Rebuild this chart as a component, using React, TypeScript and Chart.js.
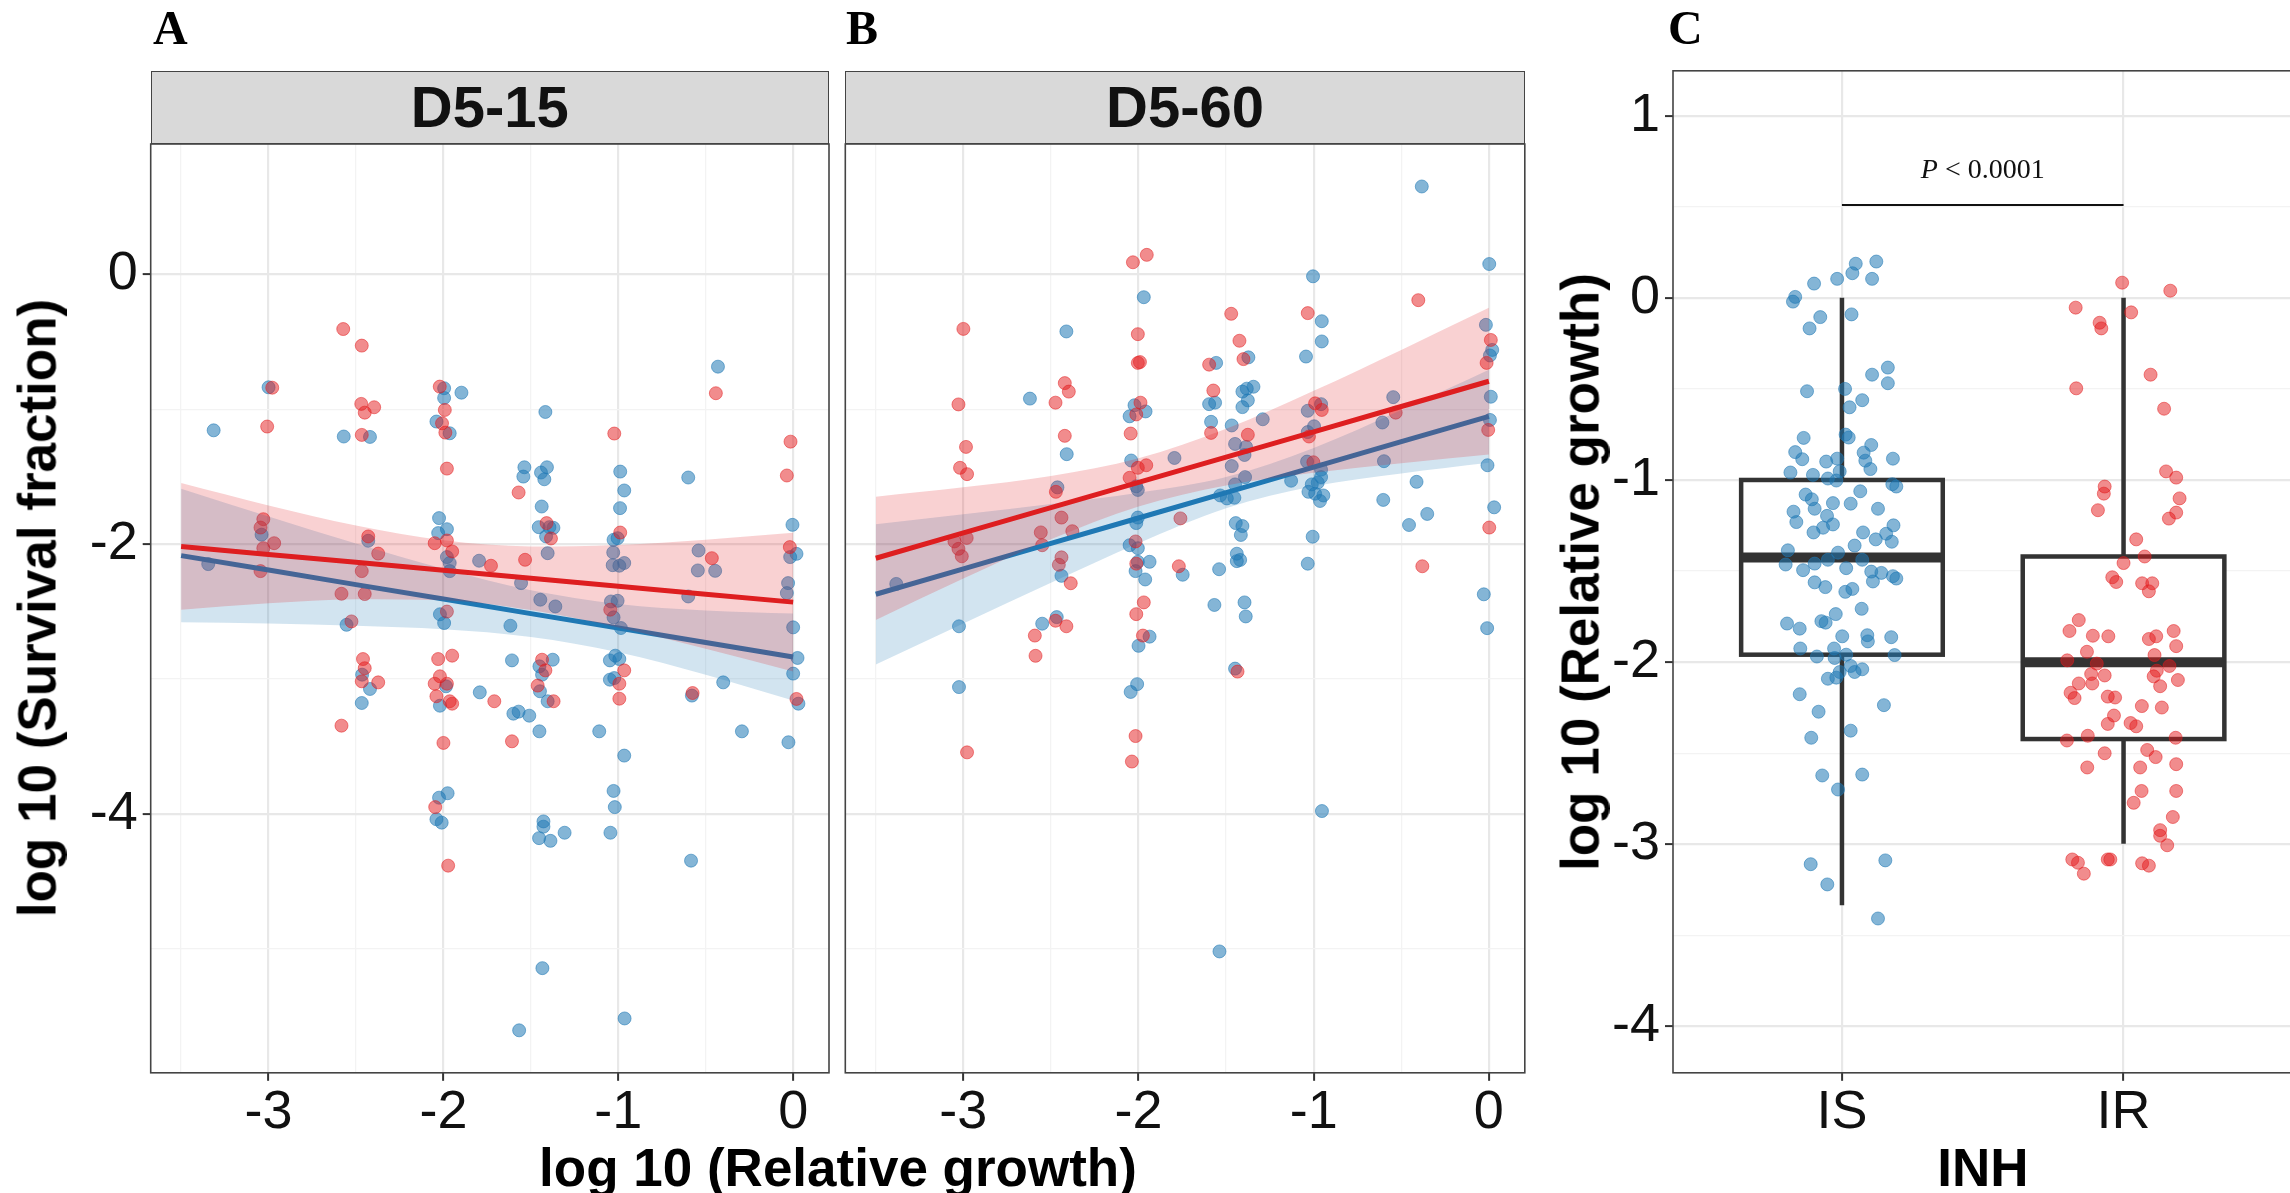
import React, { useEffect, useRef } from "react";
import { Chart, registerables } from "chart.js";

Chart.register(...registerables);

const SANS = '"Liberation Sans", Arial, Helvetica, sans-serif';
const SERIF = '"Liberation Serif", "Times New Roman", serif';

// ---------------- Panel A : D5-15  (x = log10 relative growth, y = log10 survival fraction)
const d15_IS: number[][] = [
  [-3.0,-0.837],[-3.314,-1.156],[-2.57,-1.202],[-2.42,-1.205],[-1.996,-0.844],[-1.996,-0.916],[-1.897,-0.877],[-2.04,-1.091],[-1.964,-1.178],[-3.04,-1.93],[-3.345,-2.148],[-2.43,-1.975],[-2.554,-2.598],[-2.025,-1.807],[-2.03,-1.918],[-1.98,-1.889],[-1.98,-2.096],[-1.964,-2.14],[-1.964,-2.2],[-1.796,-2.123],[-2.02,-2.52],[-1.996,-2.585],[-2.465,-2.968],[-2.42,-3.074],[-2.467,-3.178],[-1.985,-3.054],[-2.02,-3.198],[-1.792,-3.099],
  [-0.43,-0.684],[-1.417,-1.02],[-0.6,-1.506],[-1.537,-1.43],[-1.543,-1.499],[-1.442,-1.469],[-1.408,-1.43],[-1.423,-1.519],[-0.989,-1.462],[-0.966,-1.602],[-0.99,-1.733],[-1.438,-1.721],[-1.455,-1.874],[-1.394,-1.874],[-1.371,-1.879],[-1.413,-1.943],[-1.404,-2.067],[-1.027,-1.968],[-1.004,-1.956],[-1.029,-2.062],[-1.032,-2.156],[-0.994,-2.16],[-0.966,-2.14],[-1.556,-2.289],[-1.446,-2.412],[-1.36,-2.462],[-1.617,-2.605],[-1.042,-2.425],[-1.004,-2.42],[-1.027,-2.543],[-0.985,-2.622],[-0.541,-2.047],[-0.545,-2.195],[-0.446,-2.198],[-0.6,-2.388],[-0.004,-1.857],[0.019,-2.072],[-0.017,-2.096],[-0.029,-2.289],[-0.036,-2.363],[0,-2.617],[0.025,-2.844],[0,-2.96],[-0.4,-3.025],[0.03,-3.183],[-0.579,-3.123],[-1.608,-2.862],[-1.375,-2.857],[-1.451,-2.906],[-1.436,-2.968],[-1.448,-3.091],[-1.404,-3.165],[-1.6,-3.257],[-1.57,-3.242],[-1.509,-3.272],[-1.451,-3.388],[-1.109,-3.388],[-0.293,-3.388],[-0.027,-3.469],[-0.966,-3.568],[-1.048,-2.862],[-1.017,-2.827],[-0.994,-2.852],[-1.048,-3.005],[-1.023,-2.993],
  [-1.02,-3.95],[-1.027,-3.83],[-1.045,-4.14],[-2.025,-3.88],[-1.976,-3.847],[-2.04,-4.04],[-2.01,-4.065],[-1.428,-4.056],[-1.428,-4.095],[-1.453,-4.18],[-1.388,-4.2],[-1.307,-4.14],[-0.584,-4.347],[-1.434,-5.144],[-1.567,-5.605],[-0.964,-5.517],
];
const d15_IR: number[][] = [
  [-2.573,-0.405],[-2.467,-0.528],[-2.979,-0.84],[-3.008,-1.128],[-2.467,-1.19],[-2.47,-0.96],[-2.396,-0.985],[-2.45,-1.025],[-2.021,-0.832],[-1.992,-1.005],[-2.008,-1.104],[-1.989,-1.173],[-1.98,-1.44],[-3.03,-1.815],[-3.046,-1.877],[-2.968,-1.993],[-3.03,-2.03],[-3.046,-2.2],[-2.43,-1.943],[-2.373,-2.07],[-2.467,-2.2],[-2.583,-2.368],[-2.45,-2.37],[-2.526,-2.573],[-2.05,-1.993],[-1.98,-1.973],[-1.95,-2.054],[-1.728,-2.16],[-1.98,-2.5],[-2.46,-2.852],[-2.45,-2.92],[-2.467,-3.017],[-2.373,-3.025],[-2.583,-3.346],[-2.03,-2.852],[-1.95,-2.827],[-2.02,-2.98],[-2.05,-3.035],[-1.98,-3.035],[-2.04,-3.128],[-1.964,-3.165],[-1.95,-3.183],[-2.0,-3.474],
  [-0.442,-0.881],[-1.023,-1.18],[-0.015,-1.24],[-0.036,-1.491],[-1.57,-1.617],[-1.41,-1.844],[-1.385,-1.958],[-0.989,-1.914],[-1.533,-2.116],[-1.046,-2.486],[-0.465,-2.104],[-0.019,-2.022],[0.019,-3.148],[-0.575,-3.104],[-1.436,-2.857],[-1.417,-2.936],[-1.461,-3.049],[-1.37,-3.165],[-1.709,-3.165],[-1.608,-3.462],[-0.966,-2.936],[-0.994,-3.035],[-0.994,-3.146],
  [-2.047,-3.95],[-1.973,-4.384],
];

// ---------------- Panel B : D5-60
const d60_IS: number[][] = [
  [-1.97,-0.169],[-2.412,-0.423],[-2.62,-0.921],[-2.41,-1.333],[-2.023,-0.97],[-2.051,-1.052],[-1.96,-1.016],[-2.042,-1.38],[-1.795,-1.361],[-2.013,-1.571],[-2.004,-1.598],[-2.463,-1.579],[-3.383,-2.295],[-3.025,-2.609],[-3.025,-3.06],[-2.44,-2.235],[-2.55,-2.59],[-2.467,-2.541],[-2.004,-1.803],[-2.013,-1.844],[-2.051,-2.008],[-2.004,-2.03],[-2.004,-2.131],[-1.937,-2.131],[-2.017,-2.2],[-1.962,-2.262],[-1.937,-2.686],[-2.0,-2.754],[-2.008,-3.038],[-2.045,-3.096],[-1.748,-2.227],
  [-1.004,-0.014],[0.002,0.077],[-0.954,-0.347],[-0.954,-0.497],[-1.044,-0.609],[-1.373,-0.615],[-1.557,-0.656],[-1.597,-0.962],[-1.563,-0.951],[-1.586,-1.093],[-1.407,-0.869],[-1.382,-0.847],[-1.344,-0.833],[-1.376,-0.934],[-1.407,-0.984],[-1.468,-1.12],[-1.291,-1.074],[-1.449,-1.257],[-1.386,-1.279],[-1.395,-1.339],[-1.468,-1.421],[-1.392,-1.503],[-1.449,-1.557],[-1.534,-1.639],[-1.496,-1.661],[-1.453,-1.656],[-1.445,-1.844],[-1.407,-1.866],[-1.416,-1.932],[-1.439,-2.071],[-1.42,-2.117],[-1.439,-2.126],[-1.54,-2.186],[-1.567,-2.451],[-1.395,-2.432],[-1.388,-2.536],[-1.449,-2.923],[-1.129,-1.53],[-1.034,-1.011],[-0.958,-0.962],[-1.034,-1.169],[-0.998,-1.126],[-1.038,-1.388],[-0.958,-1.448],[-0.958,-1.503],[-1.011,-1.557],[-0.977,-1.544],[-1.03,-1.612],[-0.992,-1.626],[-0.945,-1.639],[-0.964,-1.68],[-1.006,-1.945],[-1.034,-2.145],[-0.546,-0.91],[-0.608,-1.098],[-0.599,-1.385],[-0.413,-1.538],[-0.603,-1.672],[-0.456,-1.858],[-0.352,-1.776],[-0.017,-0.374],[0.019,-0.56],[0.006,-0.601],[0.011,-0.907],[0.006,-1.079],[-0.008,-1.415],[0.03,-1.727],[-0.029,-2.372],[-0.01,-2.623],
  [-0.383,0.652],[-0.953,-3.979],[-1.538,-5.02],
];
const d60_IR: number[][] = [
  [-2.032,0.09],[-1.953,0.145],[-2.004,-0.443],[-2.004,-0.656],[-1.992,-0.65],[-3.0,-0.404],[-3.028,-0.964],[-2.474,-0.951],[-2.421,-0.806],[-2.398,-0.869],[-2.421,-1.197],[-2.985,-1.279],[-3.019,-1.434],[-2.979,-1.481],[-2.013,-1.038],[-1.989,-0.951],[-2.045,-1.18],[-2.004,-1.434],[-1.956,-1.415],[-2.051,-1.508],[-2.472,-1.612],[-2.44,-1.803],[-2.378,-1.904],[-2.558,-1.913],[-2.55,-2.008],[-3.051,-1.98],[-2.981,-1.954],[-3.028,-2.035],[-3.009,-2.09],[-2.979,-3.544],[-2.44,-2.098],[-2.455,-2.153],[-2.387,-2.29],[-2.592,-2.678],[-2.588,-2.828],[-2.474,-2.568],[-2.412,-2.609],[-2.017,-1.98],[-2.013,-2.145],[-1.97,-2.432],[-2.013,-2.519],[-1.975,-2.678],[-2.017,-3.423],[-2.038,-3.612],[-1.761,-1.809],[-1.77,-2.164],
  [-0.403,-0.191],[-1.471,-0.292],[-1.034,-0.287],[-1.424,-0.492],[-1.401,-0.628],[-1.597,-0.669],[-1.573,-0.861],[-1.586,-1.175],[-1.376,-1.189],[-1.435,-2.945],[-0.992,-0.956],[-0.954,-1.005],[-1.027,-1.202],[-1.002,-1.393],[-0.532,-1.025],[-0.38,-2.164],[0.011,-0.486],[-0.013,-0.656],[-0.004,-1.153],[0.002,-1.877],
];

// fitted regression lines and 95% bands, read at these x positions
const fitX = [-3.5, -3, -2.5, -2, -1.5, -1, -0.5, 0];
const d15_IR_fit = [-2.017, -2.076, -2.135, -2.194, -2.253, -2.312, -2.371, -2.43];
const d15_IR_hi = [-1.547, -1.713, -1.862, -1.972, -2.017, -2.006, -1.967, -1.915];
const d15_IR_lo = [-2.487, -2.439, -2.408, -2.416, -2.489, -2.618, -2.775, -2.945];
const d15_IS_fit = [-2.085, -2.192, -2.3, -2.407, -2.515, -2.622, -2.73, -2.837];
const d15_IS_hi = [-1.589, -1.795, -1.995, -2.183, -2.342, -2.443, -2.492, -2.515];
const d15_IS_lo = [-2.58, -2.589, -2.605, -2.631, -2.688, -2.801, -2.968, -3.159];
const d60_IR_fit = [-2.1045, -1.917, -1.7295, -1.542, -1.3545, -1.167, -0.9795, -0.792];
const d60_IR_hi = [-1.648, -1.579, -1.495, -1.364, -1.145, -0.863, -0.56, -0.248];
const d60_IR_lo = [-2.562, -2.255, -1.964, -1.72, -1.565, -1.471, -1.4, -1.336];
const d60_IS_fit = [-2.3715, -2.183, -1.9945, -1.806, -1.6175, -1.429, -1.2405, -1.052];
const d60_IS_hi = [-1.852, -1.779, -1.703, -1.619, -1.502, -1.287, -1.006, -0.707];
const d60_IS_lo = [-2.892, -2.588, -2.287, -1.993, -1.734, -1.571, -1.476, -1.397];

const facetNames = ["D5-15", "D5-60"];
const xTicksAB = [-3.5, -3, -2.5, -2, -1.5, -1, -0.5, 0];
const xMajorsAB = [-3, -2, -1, 0];
const yTicksAB = [-5, -4, -3, -2, -1, 0];
const yMajorsAB = [-4, -2, 0];

// ---------------- Panel C : log10 relative growth by INH
const inhGroups = ["IS", "IR"];
const inhPos = [1, 2];
// jitter offset (from the group centre) and value
const inhIS_pts: number[][] = [
  [0.122,0.199],[0.049,0.187],[0.037,0.135],[0.107,0.104],[-0.017,0.104],[-0.099,0.078],[-0.166,0.005],[-0.174,-0.021],[-0.077,-0.106],[0.034,-0.091],[-0.115,-0.168],[0.163,-0.383],[0.107,-0.422],[0.163,-0.469],[-0.124,-0.513],[0.011,-0.5],[0.072,-0.562],[0.027,-0.601],[0.013,-0.751],[0.024,-0.767],[-0.136,-0.769],[0.104,-0.808],[-0.166,-0.847],[0.077,-0.85],[0.181,-0.883],[-0.141,-0.886],[-0.017,-0.883],[-0.056,-0.899],[0.083,-0.894],[0.101,-0.94],[-0.183,-0.959],[-0.103,-0.972],[-0.008,-0.953],[-0.05,-0.992],[-0.02,-1.003],[0.179,-1.023],[0.193,-1.036],[0.065,-1.062],[-0.129,-1.08],[-0.107,-1.106],[-0.032,-1.127],[0.031,-1.13],[-0.097,-1.158],[0.128,-1.158],[-0.172,-1.174],[-0.053,-1.197],[-0.162,-1.231],[-0.032,-1.244],[-0.067,-1.262],[0.183,-1.249],[-0.101,-1.288],[0.075,-1.288],[0.157,-1.295],[0.12,-1.326],[0.177,-1.339],[0.045,-1.36],[-0.192,-1.386],[-0.014,-1.399],[-0.2,-1.464],[-0.138,-1.495],[-0.097,-1.459],[-0.05,-1.438],[0.015,-1.484],[0.072,-1.438],[0.104,-1.503],[0.14,-1.51],[0.181,-1.528],[0.193,-1.541],[0.11,-1.557],[-0.097,-1.562],[-0.059,-1.588],[0.012,-1.614],[0.037,-1.598],[0.07,-1.707],[-0.195,-1.788],[-0.15,-1.816],[-0.073,-1.775],[-0.058,-1.783],[-0.022,-1.736],[0.001,-1.858],[0.09,-1.852],[0.092,-1.886],[0.175,-1.863],[-0.148,-1.925],[-0.089,-1.969],[-0.028,-1.925],[-0.026,-1.977],[0.015,-1.959],[0.187,-1.961],[0.031,-2.021],[0.072,-2.039],[0.045,-2.054],[-0.008,-2.054],[-0.05,-2.091],[-0.02,-2.085],[-0.15,-2.176],[-0.083,-2.272],[0.149,-2.236],[-0.109,-2.415],[0.031,-2.376],[-0.07,-2.622],[0.072,-2.617],[-0.014,-2.699],[-0.111,-3.109],[0.154,-3.088],[-0.052,-3.22],[0.128,-3.407],
];
const inhIR_pts: number[][] = [
  [-0.005,0.083],[0.166,0.039],[-0.17,-0.054],[0.027,-0.08],[-0.085,-0.137],[-0.079,-0.168],[0.096,-0.422],[-0.168,-0.497],[0.144,-0.609],[0.151,-0.953],[0.187,-0.987],[-0.067,-1.036],[-0.07,-1.075],[0.199,-1.101],[-0.091,-1.166],[0.187,-1.179],[0.161,-1.212],[0.045,-1.326],[0.075,-1.42],[0,-1.456],[-0.04,-1.534],[-0.026,-1.56],[0.066,-1.567],[0.102,-1.567],[0.09,-1.611],[-0.159,-1.769],[-0.192,-1.829],[-0.109,-1.855],[-0.054,-1.858],[0.09,-1.873],[0.116,-1.858],[0.178,-1.829],[0.187,-1.912],[-0.13,-1.943],[0.11,-1.961],[-0.2,-1.99],[-0.095,-2.008],[0.163,-2.021],[-0.115,-2.065],[-0.067,-2.073],[0.118,-2.047],[0.107,-2.078],[0.193,-2.098],[-0.159,-2.117],[-0.111,-2.117],[0.13,-2.132],[-0.188,-2.168],[-0.174,-2.197],[-0.056,-2.189],[-0.03,-2.194],[0.065,-2.241],[0.136,-2.249],[-0.034,-2.293],[-0.056,-2.339],[0.025,-2.334],[0.045,-2.352],[-0.201,-2.43],[-0.127,-2.404],[0.185,-2.415],[-0.067,-2.5],[0.084,-2.482],[0.114,-2.521],[-0.129,-2.578],[0.059,-2.578],[0.187,-2.56],[0.064,-2.707],[0.187,-2.707],[0.036,-2.772],[0.175,-2.85],[0.13,-2.922],[0.13,-2.953],[0.155,-3.005],[-0.182,-3.083],[-0.162,-3.101],[-0.141,-3.161],[-0.056,-3.083],[-0.047,-3.083],[0.066,-3.104],[0.09,-3.117],
];
// box statistics for IS, IR
const boxLow = [-3.334, -2.997];
const boxQ1 = [-1.959, -2.422];
const boxMedian = [-1.425, -2.0];
const boxQ3 = [-1.0, -1.42];
const boxHigh = [0, 0];
const boxWidth = 0.716;
const pItalic = "P";
const pRest = " < 0.0001";
const pBracketX = [1, 2];
const pBracketY = 0.51;
const yTicksC = [-4, -3.5, -3, -2.5, -2, -1.5, -1, -0.5, 0, 0.5, 1];
const yMajorsC = [-4, -3, -2, -1, 0, 1];

// ---------------- styling
const BLUE_PT = "rgba(31,120,180,0.55)";
const RED_PT = "rgba(227,26,28,0.5)";
const BLUE_LINE = "rgb(31,120,180)";
const RED_LINE = "rgb(222,30,32)";
const BLUE_RIB = "rgba(31,120,180,0.2)";
const RED_RIB = "rgba(227,26,28,0.2)";
const GRID_MAJOR = "#e8e8e8";
const GRID_MINOR = "#f3f3f3";
const TICK_FONT = 54;
const PT_R = 6.5;
const PAGE_W = 2290;
const PAGE_H = 1193;
const PLOT_TOP = 144;
const PLOT_BOTTOM = 1072.8;
const XAXIS_H = 100;
const YAXIS_W = 140;

function scaleOpts(o: {
  min: number; max: number; ticks: number[]; majors: number[]; labels: boolean;
  size: number; horiz: boolean; fmt?: (v: number) => string;
}) {
  const isMajor = (v: any) => typeof v === "number" && o.majors.some((m) => Math.abs(m - v) < 1e-9);
  const tv = (c: any) => (c && c.tick ? c.tick.value : NaN);
  return {
    type: "linear",
    min: o.min,
    max: o.max,
    afterBuildTicks: (s: any) => {
      s.ticks = o.ticks.map((v) => ({ value: v }));
    },
    afterFit: (s: any) => {
      if (o.horiz) s.height = o.size;
      else s.width = o.size;
      s.paddingTop = 0; s.paddingBottom = 0; s.paddingLeft = 0; s.paddingRight = 0;
    },
    border: { display: false },
    grid: {
      color: (c: any) => (isMajor(tv(c)) ? GRID_MAJOR : GRID_MINOR),
      lineWidth: (c: any) => (isMajor(tv(c)) ? 2.2 : 1.3),
      drawTicks: o.labels,
      tickLength: 8,
      tickWidth: 2,
      tickColor: (c: any) => (isMajor(tv(c)) ? "#333" : "rgba(0,0,0,0)"),
    },
    ticks: {
      display: o.labels,
      autoSkip: false,
      maxRotation: 0,
      minRotation: 0,
      padding: o.horiz ? 0 : 5,
      color: "#111",
      font: { family: SANS, size: TICK_FONT },
      callback: (v: any) => (isMajor(Number(v)) ? (o.fmt ? o.fmt(Number(v)) : String(v)) : ""),
    },
  } as any;
}

const borderPlugin = {
  id: "panelBorder",
  afterDraw(chart: any) {
    const { ctx, chartArea: a } = chart;
    ctx.save();
    ctx.strokeStyle = "#444";
    ctx.lineWidth = 1.6;
    ctx.strokeRect(a.left, a.top, a.right - a.left, a.bottom - a.top);
    ctx.restore();
  },
};

const toXY = (pts: number[][]) => pts.map((p) => ({ x: p[0], y: p[1] }));
const curve = (xs: number[], ys: number[]) => xs.map((x, i) => ({ x, y: ys[i] }));

function makeFacet(
  canvas: HTMLCanvasElement,
  isPts: number[][], irPts: number[][],
  irFit: number[], irHi: number[], irLo: number[],
  isFit: number[], isHi: number[], isLo: number[],
  left: number, right: number, showY: boolean
) {
  const ribbon = (ys: number[], fill: any, bg: string) => ({
    data: curve(fitX, ys), showLine: true, borderWidth: 0, borderColor: "rgba(0,0,0,0)",
    pointRadius: 0, fill, backgroundColor: bg, cubicInterpolationMode: "monotone",
  });
  const pts = (p: number[][], c: string) => ({
    data: toXY(p), showLine: false, pointRadius: PT_R, pointHoverRadius: PT_R,
    pointBackgroundColor: c, pointBorderColor: c, pointBorderWidth: 1, fill: false,
  });
  return new Chart(canvas, {
    type: "line",
    data: {
      datasets: [
        { data: curve(fitX, irFit), showLine: true, borderColor: RED_LINE, borderWidth: 5, pointRadius: 0, fill: false },
        ribbon(irHi, "+1", RED_RIB),
        ribbon(irLo, false, "rgba(0,0,0,0)"),
        { data: curve(fitX, isFit), showLine: true, borderColor: BLUE_LINE, borderWidth: 5, pointRadius: 0, fill: false },
        ribbon(isHi, "+1", BLUE_RIB),
        ribbon(isLo, false, "rgba(0,0,0,0)"),
        pts(irPts, RED_PT),
        pts(isPts, BLUE_PT),
      ] as any,
    },
    options: {
      responsive: false,
      animation: false,
      devicePixelRatio: 1,
      events: [],
      layout: {
        padding: {
          left: showY ? left - YAXIS_W : left,
          right: PAGE_W - right,
          top: PLOT_TOP,
          bottom: PAGE_H - PLOT_BOTTOM - XAXIS_H,
        },
      },
      plugins: { legend: { display: false }, tooltip: { enabled: false } },
      scales: {
        x: scaleOpts({ min: -3.674, max: 0.205, ticks: xTicksAB, majors: xMajorsAB, labels: true, size: XAXIS_H, horiz: true }),
        y: scaleOpts({ min: -5.92, max: 0.967, ticks: yTicksAB, majors: yMajorsAB, labels: showY, size: showY ? YAXIS_W : 0, horiz: false }),
      },
    } as any,
    plugins: [borderPlugin],
  });
}

const boxPlugin = {
  id: "boxes",
  beforeDatasetsDraw(chart: any) {
    const { ctx, scales } = chart;
    const xs = scales.x, ys = scales.y;
    ctx.save();
    ctx.strokeStyle = "#333";
    inhPos.forEach((pos, i) => {
      const xc = xs.getPixelForValue(pos);
      const xl = xs.getPixelForValue(pos - boxWidth / 2);
      const xr = xs.getPixelForValue(pos + boxWidth / 2);
      const yLo = ys.getPixelForValue(boxLow[i]);
      const yQ1 = ys.getPixelForValue(boxQ1[i]);
      const yMed = ys.getPixelForValue(boxMedian[i]);
      const yQ3 = ys.getPixelForValue(boxQ3[i]);
      const yHi = ys.getPixelForValue(boxHigh[i]);
      ctx.lineWidth = 4.5;
      ctx.beginPath();
      ctx.moveTo(xc, yHi); ctx.lineTo(xc, yQ3);
      ctx.moveTo(xc, yQ1); ctx.lineTo(xc, yLo);
      ctx.stroke();
      ctx.fillStyle = "#fff";
      ctx.fillRect(xl, yQ3, xr - xl, yQ1 - yQ3);
      ctx.strokeRect(xl, yQ3, xr - xl, yQ1 - yQ3);
      ctx.lineWidth = 10;
      ctx.beginPath();
      ctx.moveTo(xl, yMed); ctx.lineTo(xr, yMed);
      ctx.stroke();
    });
    ctx.restore();
  },
};

const pPlugin = {
  id: "pval",
  afterDatasetsDraw(chart: any) {
    const { ctx, scales } = chart;
    const x1 = scales.x.getPixelForValue(pBracketX[0]);
    const x2 = scales.x.getPixelForValue(pBracketX[1]);
    const yy = scales.y.getPixelForValue(pBracketY);
    ctx.save();
    ctx.fillStyle = "#111";
    ctx.textBaseline = "alphabetic";
    ctx.textAlign = "left";
    const f1 = `italic 28px ${SERIF}`;
    const f2 = `28px ${SERIF}`;
    ctx.font = f1;
    const w1 = ctx.measureText(pItalic).width;
    ctx.font = f2;
    const w2 = ctx.measureText(pRest).width;
    const sx = (x1 + x2) / 2 - (w1 + w2) / 2;
    const by = yy - 27;
    ctx.font = f1;
    ctx.fillText(pItalic, sx, by);
    ctx.font = f2;
    ctx.fillText(pRest, sx + w1, by);
    ctx.restore();
  },
};

function makeBox(canvas: HTMLCanvasElement) {
  const pts = (p: number[][], pos: number, c: string) => ({
    data: p.map((q) => ({ x: pos + q[0], y: q[1] })), showLine: false, pointRadius: PT_R, pointHoverRadius: PT_R,
    pointBackgroundColor: c, pointBorderColor: c, pointBorderWidth: 1, fill: false,
  });
  return new Chart(canvas, {
    type: "line",
    data: {
      datasets: [
        { data: curve(pBracketX, [pBracketY, pBracketY]), showLine: true, borderColor: "#111", borderWidth: 2, pointRadius: 0, fill: false },
        pts(inhIS_pts, inhPos[0], BLUE_PT),
        pts(inhIR_pts, inhPos[1], RED_PT),
      ] as any,
    },
    options: {
      responsive: false,
      animation: false,
      devicePixelRatio: 1,
      events: [],
      layout: { padding: { left: 1673 - YAXIS_W, right: 2300 - 2293, top: 70.8, bottom: PAGE_H - PLOT_BOTTOM - XAXIS_H } },
      plugins: { legend: { display: false }, tooltip: { enabled: false } },
      scales: {
        x: scaleOpts({ min: 0.4, max: 2.6, ticks: inhPos, majors: inhPos, labels: true, size: XAXIS_H, horiz: true, fmt: (v) => inhGroups[inhPos.indexOf(v)] }),
        y: scaleOpts({ min: -4.254, max: 1.246, ticks: yTicksC, majors: yMajorsC, labels: true, size: YAXIS_W, horiz: false }),
      },
    } as any,
    plugins: [boxPlugin, pPlugin, borderPlugin],
  });
}

const abs: React.CSSProperties = { position: "absolute", margin: 0, padding: 0, whiteSpace: "nowrap" };

function Strip({ left, right, text }: { left: number; right: number; text: string }) {
  return (
    <div
      style={{
        ...abs, left, top: 70.8, width: right - left, height: PLOT_TOP - 70.8, boxSizing: "border-box",
        background: "#d9d9d9", border: "1.6px solid #444", display: "flex", alignItems: "center",
        justifyContent: "center", font: `bold 58px ${SANS}`, lineHeight: 1, color: "#111",
      }}
    >
      {text}
    </div>
  );
}

function PanelTag({ left, text }: { left: number; text: string }) {
  return <div style={{ ...abs, left, top: 4, font: `bold 48px ${SERIF}`, lineHeight: 1, color: "#000" }}>{text}</div>;
}

function VTitle({ cx, cy, text }: { cx: number; cy: number; text: string }) {
  return (
    <div style={{ ...abs, left: cx, top: cy, transform: "translate(-50%, -50%) rotate(-90deg)", font: `bold 53px ${SANS}`, lineHeight: 1, color: "#000" }}>
      {text}
    </div>
  );
}

function HTitle({ cx, text }: { cx: number; text: string }) {
  return (
    <div style={{ ...abs, left: cx, top: 1141, transform: "translateX(-50%)", font: `bold 53px ${SANS}`, lineHeight: 1, color: "#000" }}>
      {text}
    </div>
  );
}

export default function App() {
  const refA = useRef<HTMLCanvasElement>(null);
  const refB = useRef<HTMLCanvasElement>(null);
  const refC = useRef<HTMLCanvasElement>(null);

  useEffect(() => {
    const charts = [
      makeFacet(refA.current!, d15_IS, d15_IR, d15_IR_fit, d15_IR_hi, d15_IR_lo, d15_IS_fit, d15_IS_hi, d15_IS_lo, 150.7, 829, true),
      makeFacet(refB.current!, d60_IS, d60_IR, d60_IR_fit, d60_IR_hi, d60_IR_lo, d60_IS_fit, d60_IS_hi, d60_IS_lo, 845.3, 1524.8, false),
      makeBox(refC.current!),
    ];
    return () => charts.forEach((c) => c.destroy());
  }, []);

  const cv: React.CSSProperties = { position: "absolute", left: 0, top: 0 };
  return (
    <div style={{ position: "absolute", left: 0, top: 0, width: PAGE_W, height: PAGE_H, overflow: "hidden", background: "#fff" }}>
      <canvas ref={refA} width={PAGE_W} height={PAGE_H} style={{ ...cv, width: PAGE_W, height: PAGE_H }} />
      <canvas ref={refB} width={PAGE_W} height={PAGE_H} style={{ ...cv, width: PAGE_W, height: PAGE_H }} />
      <canvas ref={refC} width={2300} height={PAGE_H} style={{ ...cv, width: 2300, height: PAGE_H }} />
      <Strip left={150.7} right={829} text={facetNames[0]} />
      <Strip left={845.3} right={1524.8} text={facetNames[1]} />
      <PanelTag left={153} text="A" />
      <PanelTag left={846} text="B" />
      <PanelTag left={1668} text="C" />
      <VTitle cx={37} cy={608} text="log 10 (Survival fraction)" />
      <VTitle cx={1580} cy={572} text="log 10 (Relative growth)" />
      <HTitle cx={838} text="log 10 (Relative growth)" />
      <HTitle cx={1983} text="INH" />
    </div>
  );
}
